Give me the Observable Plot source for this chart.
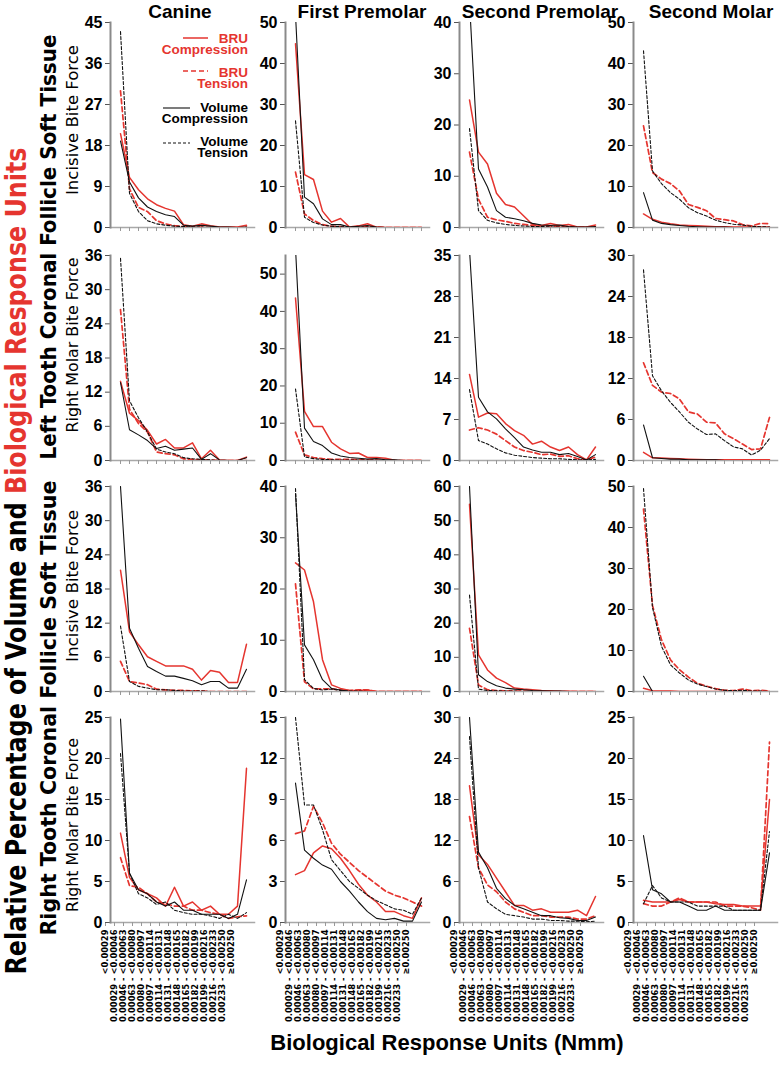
<!DOCTYPE html>
<html><head><meta charset="utf-8">
<script src="https://cdn.jsdelivr.net/npm/d3@7"></script>
<script src="https://cdn.jsdelivr.net/npm/@observablehq/plot@0.6"></script>
<style>
body{margin:0;background:#fff;}
#root{position:relative;width:784px;height:1071px;overflow:hidden;font-family:"Liberation Sans",Arial,sans-serif;}
#root svg{position:absolute;}
</style></head><body><div id="root"></div>
<script>
// ---------- data ----------
const categories = ["<0.00029","0.00029 - <0.00046","0.00046 - <0.00063","0.00063 - <0.00080","0.00080 - <0.00097","0.00097 - <0.00114","0.00114 - <0.00131","0.00131 - <0.00148","0.00148 - <0.00165","0.00165 - <0.00182","0.00182 - <0.00199","0.00199 - <0.00216","0.00216 - <0.00233","0.00233 - <0.00250","\u22650.00250"];
const teeth = ["Canine","First Premolar","Second Premolar","Second Molar"];
const series = ["BRU Compression","BRU Tension","Volume Compression","Volume Tension"];
const rowLabels = ["Incisive Bite Force","Right Molar Bite Force","Incisive Bite Force","Right Molar Bite Force"];
const sideLabels = ["Left Tooth Coronal Follicle Soft Tissue","Right Tooth Coronal Follicle Soft Tissue"];
const yMax  = [[45,50,40,50],[36,55,35,30],[36,40,60,50],[25,15,30,25]];
const yStep = [[9,10,10,10],[6,10,7,6],[6,10,10,10],[5,3,6,5]];

// each panel: [BRU Compression, BRU Tension, Volume Compression, Volume Tension]
const leftIncisiveCanine = [
  [20.6,11,8.3,6.3,5.0,4.2,3.6,0.6,0.3,0.8,0.4,0.1,0.1,0.1,0.5],
  [30,8.5,4.4,3.5,1.5,0.8,0.4,0.2,0.1,0.1,0,0,0,0,0.1],
  [19,10,6.5,4.5,3.5,2.8,2.4,0.5,0.3,0.5,0.3,0.1,0.1,0,0.1],
  [43,7.5,3.5,1.5,0.8,0.5,0.3,0.2,0.1,0.1,0,0,0,0,0]];
const leftIncisiveFirstPremolar = [
  [44.8,12.9,11.7,4.0,1.3,2.2,0.1,0.4,0.9,0.1,0,0,0,0,0],
  [13.5,3.3,1.7,0.7,0.3,0.2,0.1,0.1,0.3,0.1,0,0,0,0,0],
  [52,7.4,5.8,2.1,0.7,0.7,0.1,0.3,0.5,0.1,0,0,0,0,0],
  [26,2.5,1.2,0.6,0.3,0.2,0.1,0.1,0.1,0,0,0,0,0,0]];
const leftIncisiveSecondPremolar = [
  [24.9,14.7,12.4,6.7,4.5,4.0,2.3,0.6,0.4,0.8,0.4,0.6,0.1,0.1,0.5],
  [14.7,5.5,2.0,1.5,1.2,0.8,0.6,0.4,0.3,0.3,0.2,0.2,0.1,0.1,0.1],
  [44,11.4,7.9,3.3,2.0,1.7,1.3,0.8,0.5,0.4,0.5,0.2,0.1,0.1,0.2],
  [19.3,3.3,1.4,0.9,0.6,0.4,0.3,0.2,0.2,0.1,0.1,0.1,0,0,0]];
const leftIncisiveSecondMolar = [
  [3.3,2.0,1.3,0.9,0.6,0.5,0.4,0.3,0.2,0.2,0.1,0.1,0.1,0.1,0.1],
  [24.8,13.4,11.8,10.7,8.9,5.6,4.9,4.1,2.2,1.9,1.6,0.7,0.4,1.0,0.9],
  [8.5,1.8,1.0,0.7,0.5,0.3,0.2,0.1,0.1,0.1,0,0,0,0,0],
  [43.1,13.8,10.7,8.5,6.9,4.8,3.6,2.8,1.8,1.2,0.8,0.6,0.3,0.2,0.1]];
const leftMolarCanine = [
  [13.9,8.3,7.0,5.3,2.9,3.7,2.2,2.2,3.1,0.3,1.8,0.1,0,0,0.6],
  [26.5,9,6.5,5,1.5,1.2,1.0,0.3,0.2,0.1,0.1,0,0,0,0],
  [13.7,5.4,4.5,3.5,2.1,2.5,1.8,2.0,2.2,0.2,1.2,0.1,0,0,0.5],
  [35.5,10.5,7.5,5,2,1.5,1.2,0.5,0.3,0.2,0.1,0,0,0,0]];
const leftMolarFirstPremolar = [
  [43.6,13.2,9.1,9.1,4.9,3.1,1.9,2.0,0.8,0.8,0.6,0.1,0,0,0],
  [7.6,1.5,0.8,0.5,0.3,0.3,0.3,0.2,0.2,0.1,0,0,0,0,0],
  [57,8.7,5.1,4.0,2.0,1.2,0.8,0.6,0.4,0.5,0.2,0.2,0,0,0],
  [19.2,1.0,0.5,0.3,0.2,0.1,0.1,0.1,0.1,0,0,0,0,0,0]];
const leftMolarSecondPremolar = [
  [14.7,7.4,8.1,8.0,6.3,5.1,4.3,2.8,3.3,2.3,1.7,2.3,1.0,0.1,2.3],
  [5.2,5.6,5.2,4.5,3.4,2.3,1.7,1.4,1.0,1.1,0.7,0.8,0.3,0.1,0.6],
  [36,10.8,8.3,7.1,5.4,3.9,2.3,1.8,1.4,1.4,1.0,1.2,0.7,0.1,1.0],
  [12.1,3.4,2.8,2.0,1.3,0.9,0.7,0.5,0.4,0.3,0.3,0.2,0.1,0.1,0.2]];
const leftMolarSecondMolar = [
  [1.2,0.4,0.35,0.3,0.25,0.2,0.15,0.1,0.1,0.1,0.1,0.1,0.1,0.1,0.1],
  [14.3,11,10,9.8,9,7.1,6.8,5.6,5.5,3.9,3.2,2.4,1.6,1.7,6.3],
  [5.2,0.4,0.3,0.2,0.2,0.1,0.1,0.1,0.1,0,0,0,0,0,0],
  [27.9,12.4,10.2,8.5,7.1,5.6,4.6,3.8,3.9,2.9,2.0,1.7,0.8,1.5,3.2]];
const rightIncisiveCanine = [
  [21.3,10.5,8.2,6.1,5.3,4.5,4.5,4.5,3.9,2.0,3.7,3.4,1.6,1.6,8.3],
  [5.3,1.75,1.5,1.2,0.4,0.3,0.2,0.2,0.1,0.1,0,0,0,0,0],
  [36,11.1,7.6,4.4,3.5,2.7,2.7,2.3,1.9,1.2,1.75,1.75,0.6,0.6,3.9],
  [11.5,1.75,0.9,0.6,0.3,0.3,0.2,0.1,0.1,0.1,0,0,0,0,0]];
const rightIncisiveFirstPremolar = [
  [25.1,23.7,17.5,6.2,1.3,0.6,0.2,0.2,0.3,0,0,0,0,0,0],
  [21,1.9,0.5,0.5,0.5,0.3,0.2,0.3,0.3,0,0,0,0,0,0],
  [38.6,9.1,6.2,2.3,0.6,0.3,0,0,0,0,0,0,0,0,0],
  [39.6,2.3,0.6,0.3,0.5,0.2,0.1,0.1,0,0,0,0,0,0,0]];
const rightIncisiveSecondPremolar = [
  [54.8,10.7,6.3,3.9,2.6,1.0,0.7,0.5,0.3,0.2,0.1,0.1,0,0,0],
  [18.5,1.9,0.5,0.3,0.2,0.1,0.1,0,0,0,0,0,0,0,0],
  [60,4.9,2.9,1.7,1.0,0.7,0.5,0.3,0.2,0.1,0.1,0,0,0,0],
  [28.2,0.7,0.3,0.2,0.1,0.1,0,0,0,0,0,0,0,0,0]];
const rightIncisiveSecondMolar = [
  [0.8,0.2,0.1,0.1,0,0,0,0,0,0,0,0,0,0,0],
  [44.5,21,12.6,7.7,5.3,3.5,2.0,1.3,0.7,0.3,0.2,0.6,0.2,0.3,0.1],
  [3.7,0,0,0,0,0,0,0,0,0,0,0,0,0,0],
  [49.5,20.5,11,6.5,4.5,2.8,1.8,1.2,0.6,0.3,0.2,0.3,0.1,0.1,0]];
const rightMolarCanine = [
  [10.9,5.5,4.0,3.5,3.0,2.0,4.3,2.0,2.5,1.5,2.0,1.0,1.0,2.0,18.8],
  [7.9,4.5,4.3,3.5,2.5,2.3,2.0,2.0,1.5,1.5,1.2,1.0,0.5,0.7,0.8],
  [24.8,6.0,4.0,3.5,2.5,2.0,2.5,1.5,1.5,1.0,1.0,1.0,0.5,1.0,5.2],
  [20.6,6.0,3.5,3.0,2.2,2.5,1.5,1.2,1.0,1.0,0.8,0.5,1.0,0.5,1.2]];
const rightMolarFirstPremolar = [
  [3.5,3.8,5.1,5.6,5.4,4.7,3.8,2.8,2.0,1.5,0.8,0.8,0.5,0.3,1.8],
  [6.5,6.7,8.5,7.3,5.8,5.0,4.4,3.8,3.3,2.8,2.3,2.0,1.8,1.5,1.2],
  [10.2,5.3,4.7,4.2,3.9,3.0,2.3,1.5,0.8,0.3,0.2,0.3,0.1,0.1,1.5],
  [15,8.6,8.6,6.8,4.6,3.8,3.0,2.5,2.0,1.6,1.3,1.0,0.9,0.6,1.8]];
const rightMolarSecondPremolar = [
  [20,9.9,8.5,6.5,4.5,2.5,2.5,1.8,2.0,1.5,1.5,1.5,1.8,1.0,3.8],
  [15.5,8.0,5.5,4.5,3.0,2.0,1.5,1.0,1.0,0.8,0.8,0.8,0.5,0.5,1.0],
  [30,10.3,8.0,5.0,3.5,2.5,2.0,1.5,1.0,1.0,0.7,0.6,0.3,0.3,0.8],
  [27.2,8.0,3.0,2.0,1.2,1.0,0.8,0.5,0.5,0.3,0.3,0.2,0.2,0.1,0.2]];
const rightMolarSecondMolar = [
  [2.7,2.5,2.5,2.5,2.8,2.5,2.5,2.5,2.3,2.2,2.2,2.0,2.0,2.0,15.0],
  [2.3,2.0,2.0,2.5,3.0,2.5,2.5,2.5,2.5,2.0,2.0,2.0,1.8,1.5,22.0],
  [10.6,4.0,3.5,2.5,2.5,2.0,1.5,1.5,2.0,1.5,1.5,1.5,1.5,1.5,8.5],
  [2.3,4.5,3.0,2.5,2.5,2.5,2.0,2.0,2.0,2.0,1.5,1.5,1.5,1.5,11.1]];

const panels = [
  [leftIncisiveCanine, leftIncisiveFirstPremolar, leftIncisiveSecondPremolar, leftIncisiveSecondMolar],
  [leftMolarCanine, leftMolarFirstPremolar, leftMolarSecondPremolar, leftMolarSecondMolar],
  [rightIncisiveCanine, rightIncisiveFirstPremolar, rightIncisiveSecondPremolar, rightIncisiveSecondMolar],
  [rightMolarCanine, rightMolarFirstPremolar, rightMolarSecondPremolar, rightMolarSecondMolar]];

// ---------- styles ----------
const RED = "#e5352f";
const seriesStyle = {
  "BRU Compression":    {stroke: RED, strokeWidth: 1.5, strokeDasharray: null},
  "BRU Tension":        {stroke: RED, strokeWidth: 1.7, strokeDasharray: "5,3"},
  "Volume Compression": {stroke: "#111", strokeWidth: 1.1, strokeDasharray: null},
  "Volume Tension":     {stroke: "#111", strokeWidth: 1.1, strokeDasharray: "3,2"}
};
const NARROW = '"Liberation Sans Narrow","Arial Narrow","DejaVu Sans Condensed",sans-serif';
const colX = [110, 285, 459, 633];
const rowTop = [22, 255, 486, 717];
const FW = 144, FH = 205, ML = 40, MR = 5, MT = 6;
const root = document.getElementById("root");

for (let r = 0; r < 4; r++) {
  for (let c = 0; c < 4; c++) {
    const vals = panels[r][c];
    const rows = [];
    series.forEach((s, si) => vals[si].forEach((v, i) => rows.push({cat: categories[i], value: v, series: s})));
    const last = r === 3;
    const MB = last ? 100 : 8;
    const max = yMax[r][c], step = yStep[r][c];
    const ticks = d3.range(0, max + 1e-9, step);
    const marks = [
      Plot.frame({anchor: "bottom", stroke: "#a8a8a8", strokeWidth: 1.5}),
      last
        ? Plot.axisX({label: null, tickSize: 4, tickPadding: 3, tickRotate: -90, fontSize: 9.3, fontWeight: "bold", fontFamily: NARROW, dx: -15, stroke: "#999"})
        : Plot.axisX({label: null, tickSize: 4, tickFormat: () => "", stroke: "#999"}),
      Plot.axisY(ticks, {label: null, tickSize: 5, tickPadding: 3, fontSize: 16, fontWeight: "bold", stroke: "#555"}),
      Plot.frame({anchor: "left", stroke: "#8a8a8a", strokeWidth: 2}),
      ...series.map(s => Plot.lineY(rows.filter(d => d.series === s), {x: "cat", y: "value", ...seriesStyle[s], clip: true}))
    ];
    const svg = Plot.plot({
      width: ML + FW + MR, height: MT + FH + MB,
      marginLeft: ML, marginRight: MR, marginTop: MT, marginBottom: MB,
      x: {type: "point", domain: categories, padding: 0, insetLeft: 9, insetRight: 7, label: null},
      y: {domain: [0, max], label: null},
      style: {fontFamily: '"Liberation Sans",Arial,sans-serif', color: "#000", background: "transparent", overflow: "visible"},
      marks
    });
    svg.style.left = (colX[c] - ML) + "px";
    svg.style.top = (rowTop[r] - MT) + "px";
    root.appendChild(svg);
  }
}

// ---------- overlay: titles, labels, legend ----------
const ov = d3.select(root).append("svg").attr("width", 784).attr("height", 1071).style("left", "0px").style("top", "0px")
  .attr("font-family", '"Liberation Sans",Arial,sans-serif');

const titleX = [180, 362, 540, 711];
teeth.forEach((t, i) => ov.append("text").attr("x", titleX[i]).attr("y", 18).attr("text-anchor", "middle")
  .attr("font-size", 19).attr("font-weight", "bold").text(t));

ov.append("text").attr("x", 447).attr("y", 1050).attr("text-anchor", "middle")
  .attr("font-size", 22).attr("font-weight", "bold").text("Biological Response Units (Nmm)");

const big = ov.append("text").attr("transform", "translate(26,561) rotate(-90)").attr("text-anchor", "middle")
  .attr("font-family", NARROW).attr("font-size", 28).attr("font-weight", "bold")
  .attr("textLength", 827).attr("lengthAdjust", "spacingAndGlyphs");
big.append("tspan").text("Relative Percentage of Volume and ");
big.append("tspan").attr("fill", RED).text("Biological Response Units");

const sideY = [247, 708], sideLen = [425, 455];
sideLabels.forEach((t, i) => ov.append("text").attr("transform", `translate(56,${sideY[i]}) rotate(-90)`)
  .attr("text-anchor", "middle").attr("font-family", NARROW).attr("font-size", 22).attr("font-weight", "bold")
  .attr("textLength", sideLen[i]).attr("lengthAdjust", "spacingAndGlyphs").text(t));

const rowY = [120, 345, 586, 825], rowLen = [150, 175, 152, 174];
rowLabels.forEach((t, i) => ov.append("text").attr("transform", `translate(78,${rowY[i]}) rotate(-90)`)
  .attr("text-anchor", "middle").attr("font-family", NARROW).attr("font-size", 15)
  .attr("textLength", rowLen[i]).attr("lengthAdjust", "spacingAndGlyphs").text(t));

// legend
const legend = [
  {s: "BRU Compression", l1: "BRU", l2: "Compression", color: RED, x1: 183, x2: 208, ly: 38, y1: 43, y2: 54},
  {s: "BRU Tension", l1: "BRU", l2: "Tension", color: RED, x1: 183, x2: 208, ly: 71, y1: 77, y2: 88},
  {s: "Volume Compression", l1: "Volume", l2: "Compression", color: "#000", x1: 163, x2: 190, ly: 108, y1: 112, y2: 123},
  {s: "Volume Tension", l1: "Volume", l2: "Tension", color: "#000", x1: 163, x2: 190, ly: 143, y1: 146, y2: 157}
];
legend.forEach(d => {
  const st = seriesStyle[d.s];
  ov.append("line").attr("x1", d.x1).attr("x2", d.x2).attr("y1", d.ly).attr("y2", d.ly)
    .attr("stroke", st.stroke).attr("stroke-width", st.strokeWidth).attr("stroke-dasharray", st.strokeDasharray);
  ov.append("text").attr("x", 248).attr("y", d.y1).attr("text-anchor", "end").attr("font-size", 13.5)
    .attr("font-weight", "bold").attr("fill", d.color).text(d.l1);
  ov.append("text").attr("x", 248).attr("y", d.y2).attr("text-anchor", "end").attr("font-size", 13.5)
    .attr("font-weight", "bold").attr("fill", d.color).text(d.l2);
});
</script></body></html>
